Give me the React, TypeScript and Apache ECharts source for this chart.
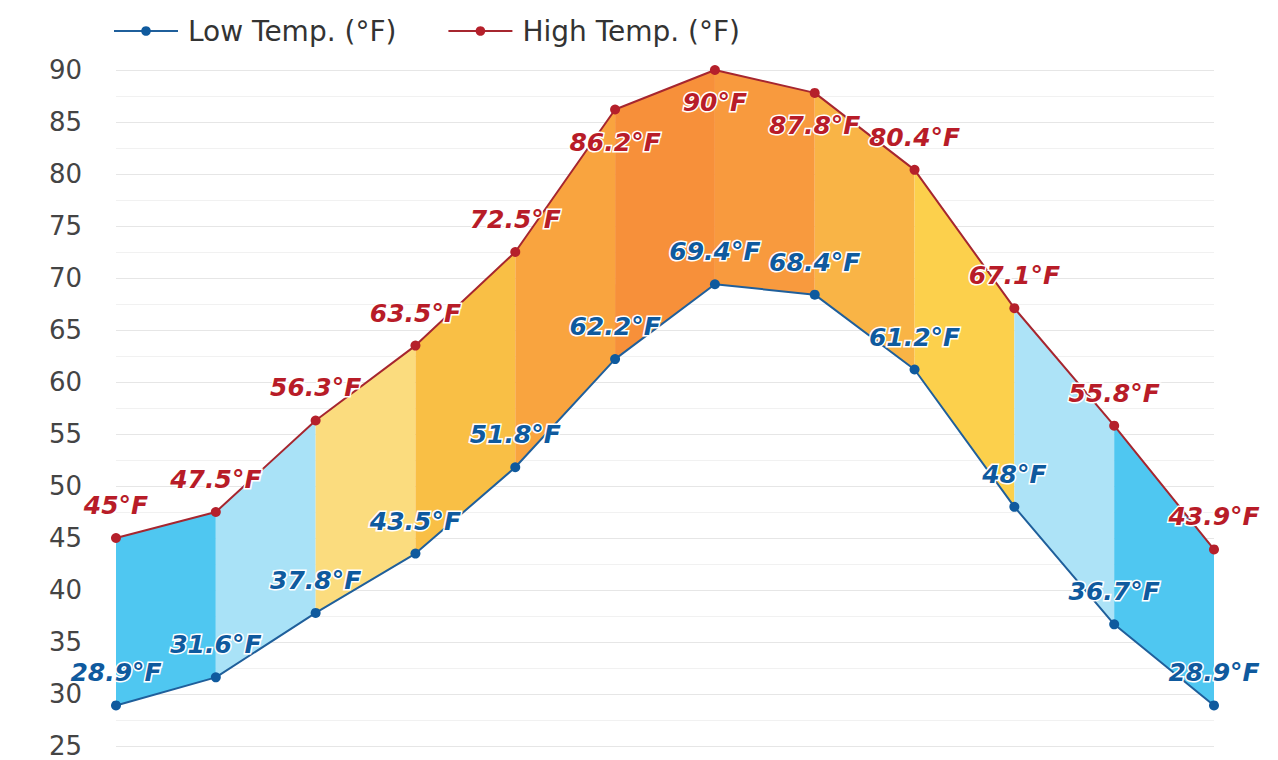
import React, { useEffect, useRef } from "react";
import * as echarts from "echarts";

const months = ["Jan", "Feb", "Mar", "Apr", "May", "Jun", "Jul", "Aug", "Sep", "Oct", "Nov", "Dec"];
const lowTemps = [28.9, 31.6, 37.8, 43.5, 51.8, 62.2, 69.4, 68.4, 61.2, 48, 36.7, 28.9];
const highTemps = [45, 47.5, 56.3, 63.5, 72.5, 86.2, 90, 87.8, 80.4, 67.1, 55.8, 43.9];
const bandColors = [
  "#4fc7f1", "#a9e2f7", "#fbdc7e", "#f9bf45", "#f9a43f", "#f7903a",
  "#f89a3e", "#f9b446", "#fcd04c", "#ade3f7", "#4fc7f1",
];
const belowLabelMonths = ["Jun", "Jul", "Aug"];

const FONT = "'DejaVu Sans', 'Liberation Sans', Arial, sans-serif";

export default function App() {
  const ref = useRef<HTMLDivElement>(null);
  useEffect(() => {
    if (!ref.current) return;
    const chart = echarts.init(ref.current, null, { renderer: "svg" });

    const segments = months.slice(0, -1).map((_, i) => [
      i, lowTemps[i], highTemps[i], lowTemps[i + 1], highTemps[i + 1],
    ]);

    const labelStyle = (color: string) => ({
      show: true,
      position: "top",
      distance: 15,
      fontFamily: FONT,
      fontSize: 25,
      fontWeight: "bold",
      fontStyle: "italic",
      color,
      textBorderColor: "#ffffff",
      textBorderWidth: 3,
      formatter: (p: any) => `${p.value}°F`,
    });

    const highData = highTemps.map((v, i) =>
      belowLabelMonths.includes(months[i])
        ? { value: v, label: { position: "bottom", distance: 15 } }
        : v
    );

    chart.setOption({
      animation: false,
      backgroundColor: "#ffffff",
      legend: {
        top: 17,
        left: 113,
        padding: 0,
        itemWidth: 64,
        itemHeight: 12,
        itemGap: 51,
        data: ["Low Temp. (°F)", "High Temp. (°F)"],
        textStyle: { fontFamily: FONT, fontSize: 28, color: "#333333", padding: [0, 0, 0, 5] },
      },
      grid: { left: 116, right: 64, top: 70, bottom: 14, containLabel: false },
      xAxis: {
        type: "category",
        data: months,
        boundaryGap: false,
        axisLine: { show: false },
        axisTick: { show: false },
        axisLabel: { show: false },
        splitLine: { show: false },
      },
      yAxis: {
        type: "value",
        min: 25,
        max: 90,
        interval: 5,
        axisLine: { show: false },
        axisTick: { show: false },
        axisLabel: { fontFamily: FONT, fontSize: 26, color: "#444444", margin: 34 },
        splitLine: { lineStyle: { color: "#e6e6e6", width: 1 } },
        minorTick: { show: false, splitNumber: 2 },
        minorSplitLine: { show: true, lineStyle: { color: "#f1f1f1", width: 1 } },
      },
      series: [
        {
          type: "custom",
          z: 1,
          silent: true,
          data: segments,
          encode: { x: 0, y: [1, 2, 3, 4] },
          renderItem: (params: any, api: any) => {
            const i = api.value(0);
            const p1 = api.coord([i, api.value(1)]);
            const p2 = api.coord([i, api.value(2)]);
            const p3 = api.coord([i + 1, api.value(4)]);
            const p4 = api.coord([i + 1, api.value(3)]);
            return {
              type: "polygon",
              shape: { points: [p1, p2, p3, p4] },
              style: { fill: bandColors[params.dataIndex], stroke: null },
            };
          },
        },
        {
          name: "Low Temp. (°F)",
          type: "line",
          z: 3,
          data: lowTemps,
          symbol: "circle",
          symbolSize: 10,
          lineStyle: { color: "#1f5f9b", width: 2 },
          itemStyle: { color: "#0f5a9e" },
          label: labelStyle("#0f5a9e"),
        },
        {
          name: "High Temp. (°F)",
          type: "line",
          z: 3,
          data: highData,
          symbol: "circle",
          symbolSize: 10,
          lineStyle: { color: "#a6262f", width: 2 },
          itemStyle: { color: "#b5202b" },
          label: labelStyle("#b81c28"),
        },
      ],
    });
    return () => chart.dispose();
  }, []);
  return (
    <div
      ref={ref}
      style={{ position: "fixed", left: 0, top: 0, width: 1278, height: 760 }}
    />
  );
}
